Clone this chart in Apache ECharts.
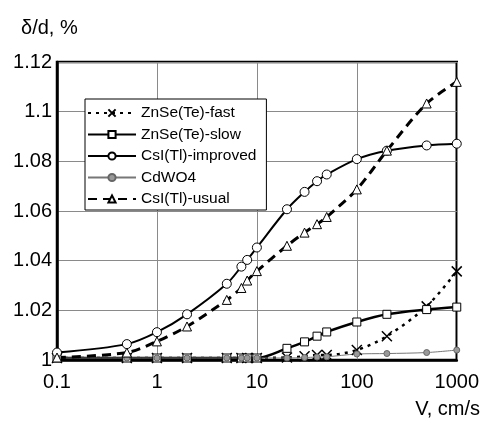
<!DOCTYPE html>
<html>
<head>
<meta charset="utf-8">
<script src="https://cdn.jsdelivr.net/npm/echarts@6/dist/echarts.min.js"></script>
<style>
  html, body { margin: 0; padding: 0; background: #fff; }
  #chart { width: 482px; height: 421px; }
</style>
</head>
<body>
<div id="chart"></div>
<script>
// Scanning speed, cm/s
var velocity = [0.1, 0.5, 1, 2, 5, 7, 8, 10, 20, 30, 40, 50, 100, 200, 500, 1000];

// Relative deviation δ/d for each scintillator
var znseFast   = [1.0008, 1.0008, 1.0008, 1.0008, 1.0008, 1.0008, 1.0008, 1.0008, 1.001, 1.0015, 1.002, 1.002, 1.004, 1.0096, 1.0216, 1.0357];
var znseSlow   = [1.0008, 1.0008, 1.0008, 1.0008, 1.0008, 1.0008, 1.0008, 1.0008, 1.0047, 1.0073, 1.0096, 1.0113, 1.0153, 1.0184, 1.0203, 1.0213];
var csiImproved = [1.003, 1.0064, 1.0112, 1.0184, 1.0307, 1.0376, 1.0403, 1.0453, 1.0607, 1.0677, 1.072, 1.0747, 1.0809, 1.0843, 1.0864, 1.0871];
var cdwo4      = [1.0008, 1.0008, 1.0008, 1.0008, 1.0008, 1.0008, 1.0008, 1.0008, 1.0008, 1.001, 1.0012, 1.0013, 1.0024, 1.0026, 1.003, 1.004];
var csiUsual   = [1.001, 1.003, 1.0075, 1.0135, 1.0242, 1.029, 1.032, 1.0358, 1.046, 1.0513, 1.0547, 1.0576, 1.0687, 1.0843, 1.1033, 1.112];

var seriesNames = ['ZnSe(Te)-fast', 'ZnSe(Te)-slow', 'CsI(Tl)-improved', 'CdWO4', 'CsI(Tl)-usual'];

function pairs(values) {
  return velocity.map(function (v, i) { return [v, values[i]]; });
}

var FONT = '"Liberation Sans", Arial, sans-serif';
var crossPath = 'path://M0,0L10,10M10,0L0,10';

var chart = echarts.init(document.getElementById('chart'), null, { renderer: 'canvas' });

chart.setOption({
  animation: false,
  backgroundColor: '#fff',
  textStyle: { fontFamily: FONT, color: '#000' },
  grid: {
    left: 57, right: 22, top: 62, bottom: 61,
    show: true, borderColor: '#000', borderWidth: 2.5, backgroundColor: 'transparent'
  },
  graphic: [
    { type: 'text', left: 21, top: 18, style: { text: 'δ/d, %', font: '20px ' + FONT, fill: '#000' } },
    { type: 'text', right: 2, top: 399, style: { text: 'V, cm/s', font: '20px ' + FONT, fill: '#000' } }
  ],
  legend: {
    left: 85, top: 99,
    orient: 'vertical',
    data: seriesNames,
    itemWidth: 48, itemHeight: 9, itemGap: 5.5,
    padding: [6, 10, 3, 2],
    backgroundColor: '#fff',
    borderColor: '#000', borderWidth: 1, borderRadius: 0,
    textStyle: { fontFamily: FONT, fontSize: 15.5, color: '#000' }
  },
  xAxis: {
    type: 'log', logBase: 10, min: 0.1, max: 1000,
    axisLine: { show: true, lineStyle: { color: '#000', width: 2.5 } },
    axisTick: { show: false },
    splitLine: { show: true, lineStyle: { color: '#8a8a8a', width: 1 } },
    minorSplitLine: { show: false },
    axisLabel: {
      fontSize: 20, color: '#000', margin: 12, fontFamily: FONT,
      formatter: function (v) { return String(parseFloat(v.toPrecision(6))); }
    }
  },
  yAxis: {
    type: 'value', min: 1, max: 1.12, interval: 0.02,
    axisLine: { show: true, lineStyle: { color: '#000', width: 2.5 } },
    axisTick: { show: false },
    splitLine: { show: true, lineStyle: { color: '#8a8a8a', width: 1 } },
    axisLabel: {
      fontSize: 20, color: '#000', margin: 5, fontFamily: FONT,
      formatter: function (v) { return String(parseFloat(v.toFixed(2))); }
    }
  },
  series: [
    {
      name: seriesNames[0], type: 'line', data: pairs(znseFast), smooth: 0.3,
      symbol: crossPath, symbolSize: 10,
      lineStyle: { color: '#000', width: 2.5, type: [3, 5] },
      itemStyle: { color: 'none', borderColor: '#000', borderWidth: 1.5 }
    },
    {
      name: seriesNames[1], type: 'line', data: pairs(znseSlow), smooth: 0.3,
      symbol: 'rect', symbolSize: 8,
      lineStyle: { color: '#000', width: 2.5 },
      itemStyle: { color: '#fff', borderColor: '#000', borderWidth: 1 }
    },
    {
      name: seriesNames[2], type: 'line', data: pairs(csiImproved), smooth: 0.3,
      symbol: 'circle', symbolSize: 9,
      lineStyle: { color: '#000', width: 2 },
      itemStyle: { color: '#fff', borderColor: '#000', borderWidth: 1 }
    },
    {
      name: seriesNames[3], type: 'line', data: pairs(cdwo4), smooth: 0.3,
      symbol: 'circle', symbolSize: 6,
      lineStyle: { color: '#777', width: 1 },
      itemStyle: { color: '#999', borderColor: '#666', borderWidth: 1 }
    },
    {
      name: seriesNames[4], type: 'line', data: pairs(csiUsual), smooth: 0.3,
      symbol: 'triangle', symbolSize: 9,
      lineStyle: { color: '#000', width: 3, type: [9, 6] },
      itemStyle: { color: '#fff', borderColor: '#000', borderWidth: 1 }
    }
  ]
});
</script>
</body>
</html>
